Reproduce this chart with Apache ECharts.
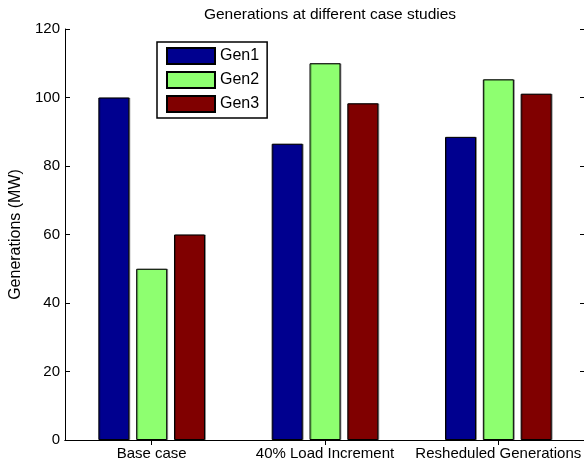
<!DOCTYPE html>
<html>
<head>
<meta charset="utf-8">
<script src="https://cdn.jsdelivr.net/npm/echarts@6/dist/echarts.min.js"></script>
<style>
html,body{margin:0;padding:0;background:#fff;}
#chart{width:584px;height:467px;}
</style>
</head>
<body>
<div id="chart"></div>
<script>
const categories = ['Base case', '40% Load Increment', 'Resheduled Generations'];
const gen1 = [100, 86.5, 88.5];
const gen2 = [50, 110, 105.3];
const gen3 = [60, 98.3, 101.1];
const seriesNames = ['Gen1', 'Gen2', 'Gen3'];
const yTicks = [0, 20, 40, 60, 80, 100, 120];

const FONT = 'Liberation Sans, Arial, Helvetica, sans-serif';
const colors = ['#00008F', '#8EFF70', '#800000'];
const chart = echarts.init(document.getElementById('chart'), null, {renderer: 'canvas'});

function barSeries(name, data, color) {
  return {
    name: name,
    type: 'bar',
    data: data,
    barWidth: 31,
    barGap: '22%',
    itemStyle: {color: color, borderColor: '#000', borderWidth: 1,
      shadowColor: 'rgba(0,0,0,0.35)', shadowOffsetX: 1, shadowOffsetY: 0, shadowBlur: 0},
    emphasis: {disabled: true},
    animation: false
  };
}

const axisLineStyle = {show: true, lineStyle: {color: '#000', width: 1}};
const tickStyle = {show: true, inside: true, length: 5, lineStyle: {color: '#000', width: 1}};

chart.setOption({
  animation: false,
  backgroundColor: '#fff',
  textStyle: {fontFamily: FONT},
  title: {
    text: 'Generations at different case studies',
    left: 325, textAlign: 'center', top: 2,
    textStyle: {fontFamily: FONT, fontSize: 15.5, fontWeight: 'normal', color: '#000'}
  },
  legend: {
    orient: 'vertical',
    left: 157, top: 42,
    icon: 'rect',
    itemWidth: 48, itemHeight: 16, itemGap: 6,
    padding: [5, 8, 5, 9],
    borderColor: '#000', borderWidth: 1.5,
    backgroundColor: '#fff',
    textStyle: {fontFamily: FONT, fontSize: 16, color: '#000'},
    data: seriesNames
  },
  grid: {left: 65, top: 29, width: 520, height: 411, containLabel: false, outerBoundsMode: 'none'},
  xAxis: [
    {
      type: 'category', data: categories, position: 'bottom',
      axisLine: axisLineStyle,
      axisTick: Object.assign({alignWithLabel: true}, tickStyle),
      axisLabel: {fontFamily: FONT, fontSize: 15, color: '#000', margin: 6, interval: 0},
      splitLine: {show: false}
    },
    {
      type: 'category', data: categories, position: 'top',
      axisLine: axisLineStyle,
      axisTick: Object.assign({alignWithLabel: true}, tickStyle),
      axisLabel: {show: false},
      splitLine: {show: false}
    }
  ],
  yAxis: [
    {
      type: 'value', min: yTicks[0], max: yTicks[yTicks.length - 1], interval: 20, position: 'left',
      axisLine: axisLineStyle, axisTick: tickStyle,
      axisLabel: {fontFamily: FONT, fontSize: 15, color: '#000', margin: 5},
      splitLine: {show: false},
      name: 'Generations (MW)', nameLocation: 'middle', nameGap: 40, nameRotate: 90,
      nameTextStyle: {fontFamily: FONT, fontSize: 16, color: '#000'}
    },
    {
      type: 'value', min: yTicks[0], max: yTicks[yTicks.length - 1], interval: 20, position: 'right',
      axisLine: axisLineStyle, axisTick: tickStyle,
      axisLabel: {show: false}, splitLine: {show: false}
    }
  ],
  series: [
    barSeries(seriesNames[0], gen1, colors[0]),
    barSeries(seriesNames[1], gen2, colors[1]),
    barSeries(seriesNames[2], gen3, colors[2])
  ]
});
</script>
</body>
</html>
